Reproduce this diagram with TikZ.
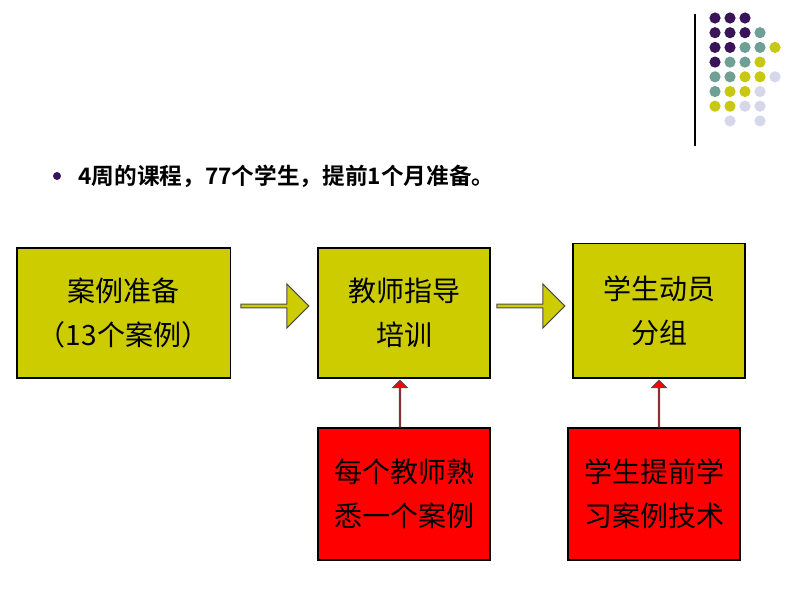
\documentclass[tikz,border=0pt]{standalone}
\usepackage{fontspec}
\newfontfamily\cjk{Noto Sans CJK SC}[BoldFont={Noto Sans CJK SC Bold}]
\usetikzlibrary{shapes.arrows}
\definecolor{olivebox}{RGB}{204,204,0}
\definecolor{redbox}{RGB}{255,0,0}
\definecolor{dotP}{RGB}{58,20,88}
\definecolor{dotT}{RGB}{110,160,150}
\definecolor{dotY}{RGB}{200,200,20}
\definecolor{dotL}{RGB}{215,215,235}
\definecolor{dotN}{RGB}{255,255,255}
\tikzset{every picture/.style={line width=0.75pt},
  stagebox/.style={draw=black,line width=1pt,inner sep=0pt,align=center,font=\cjk\fontsize{21}{33}\selectfont},
  flowarrow/.style={single arrow,draw=black!70,fill=olivebox,line width=0.75pt,minimum height=51pt,minimum width=33pt,single arrow head extend=4pt,inner sep=0pt},
  uparrow/.style={single arrow,draw=black!70,fill=redbox,line width=0.6pt,minimum height=35pt,minimum width=11pt,single arrow head extend=2.5pt,inner sep=0pt,rotate=90}}
\begin{document}
\begin{tikzpicture}[x=0.75pt,y=0.75pt,yscale=-1,xscale=1]
\useasboundingbox (0,0) rectangle (797,597);

%Dot grid
\foreach \row/\ca/\cb/\cc/\cd/\ce in {0/P/P/P/N/N,1/P/P/P/T/N,2/P/P/T/T/Y,3/P/T/T/Y/N,4/T/T/Y/Y/L,5/T/Y/Y/L/N,6/Y/Y/L/L/N,7/N/L/N/L/N}{
  \foreach \k/\c in {0/\ca,1/\cb,2/\cc,3/\cd,4/\ce}{
    \fill [color=dot\c] (715+15*\k,18+14.7*\row) circle (5.6);
  }
}
%Straight Lines
\draw [line width=1pt] (695,14) -- (695,146) ;

%Title
\fill [dotP] (57,176) circle (4);
\node (title) at (78,176) [anchor=west,inner sep=0pt,font=\cjk\bfseries\fontsize{17}{20}\selectfont] {4周的课程，77个学生，提前1个月准备。};

%Stage boxes
\node (case) [stagebox,fill=olivebox,minimum width=160pt,minimum height=97.5pt] at (123.5,313) {案例准备\\（13个案例）};
\node (teach) [stagebox,fill=olivebox,minimum width=129pt,minimum height=97.5pt] at (404,313) {教师指导\\培训};
\node (stud) [stagebox,fill=olivebox,minimum width=129pt,minimum height=101pt] at (659,310.5) {学生动员\\分组};
\node (know) [stagebox,fill=redbox,minimum width=129pt,minimum height=99pt] at (404,494) {每个教师熟\\悉一个案例};
\node (prep) [stagebox,fill=redbox,minimum width=129pt,minimum height=99pt] at (654,494) {学生提前学\\习案例技术};

%Arrows
\node (a1) [flowarrow] at (274,306) {};
\node (a2) [flowarrow] at (530,306) {};
\node (u1) [uparrow] at (400,404) {};
\node (u2) [uparrow] at (659,404) {};

\end{tikzpicture}
\end{document}
